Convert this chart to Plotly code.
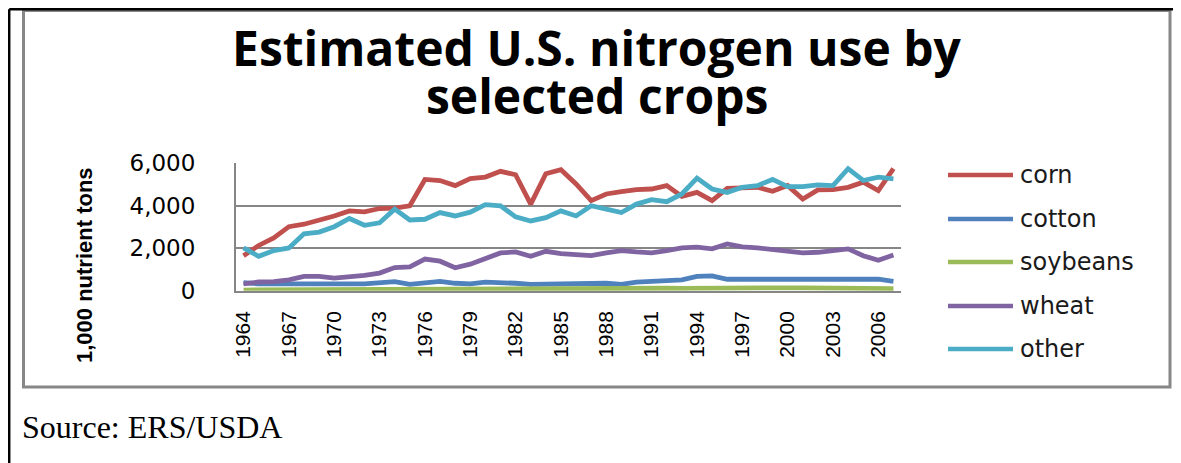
import plotly.graph_objects as go

# Estimated U.S. nitrogen use by selected crops, 1,000 nutrient tons
years = list(range(1964, 2008))

corn = [1650, 2130, 2490, 3015, 3130, 3320, 3520, 3760, 3710, 3870,
        3890, 4000, 5240, 5190, 4950, 5280, 5350, 5620, 5460, 4080,
        5510, 5700, 5030, 4240, 4555, 4670, 4760, 4790, 4950, 4440,
        4630, 4240, 4820, 4840, 4870, 4680, 4950, 4320, 4745, 4760,
        4870, 5110, 4710, 5745]

cotton = [380, 320, 320, 300, 320, 320, 300, 320, 320, 350,
          430, 300, 350, 440, 350, 320, 400, 400, 350, 300,
          320, 320, 320, 350, 350, 300, 400, 440, 475, 510,
          670, 700, 540, 540, 510, 540, 555, 540, 510, 510,
          510, 510, 540, 440]

soybeans = [30, 35, 40, 45, 50, 55, 60, 65, 70, 75,
            80, 85, 90, 95, 100, 105, 110, 115, 110, 105,
            100, 100, 100, 105, 110, 110, 115, 120, 115, 110,
            120, 125, 130, 135, 140, 140, 135, 130, 125, 120,
            115, 90, 80, 100]

wheat = [320, 410, 430, 510, 670, 670, 590, 635, 720, 830,
         1090, 1120, 1490, 1390, 1080, 1250, 1540, 1780, 1825, 1620,
         1855, 1745, 1700, 1650, 1780, 1890, 1825, 1780, 1890, 2015,
         2050, 1970, 2205, 2060, 2015, 1935, 1855, 1780, 1810, 1890,
         1970, 1650, 1430, 1680]

other = [2015, 1620, 1890, 2015, 2680, 2760, 3015, 3400, 3080, 3200,
         3840, 3330, 3365, 3680, 3520, 3700, 4050, 4000, 3475, 3285,
         3440, 3760, 3520, 4000, 3840, 3680, 4080, 4285, 4190, 4555,
         5300, 4790, 4630, 4870, 4950, 5240, 4900, 4900, 4980, 4950,
         5745, 5190, 5350, 5270]

series_names = ['corn', 'cotton', 'soybeans', 'wheat', 'other']
series_values = [corn, cotton, soybeans, wheat, other]
colors = ['#C0504D', '#4F81BD', '#9BBB59', '#8064A2', '#4BACC6']

x_ticks = list(range(1964, 2007, 3))
y_ticks = [0, 2000, 4000, 6000]

# the page body adds an 8px margin, so the figure is drawn 8px in
OFF = 8
W, H = 1181 - OFF, 463 - OFF


def px(x):
    # page pixel -> paper fraction
    return (x - OFF) / W


def py(y):
    return 1 - (y - OFF) / H


fig = go.Figure()

for name, vals, col in zip(series_names, series_values, colors):
    fig.add_trace(go.Scatter(x=years, y=vals, mode='lines', name=name,
                             line=dict(color=col, width=4.8),
                             showlegend=False))

# Hand-drawn legend so the line samples are as long as in the original
shapes = []
annotations = []
legend_y = [175, 219, 262, 306, 349]
for name, col, ly in zip(series_names, colors, legend_y):
    shapes.append(dict(type='line', xref='paper', yref='paper',
                       x0=px(948), x1=px(1013), y0=py(ly), y1=py(ly),
                       line=dict(color=col, width=4.5)))
    annotations.append(dict(text=name, xref='paper', yref='paper',
                            x=px(1018), y=py(ly), xanchor='left',
                            yanchor='middle', showarrow=False,
                            font=dict(family='DejaVu Sans', size=24,
                                      color='#1a1a1a')))

# Chart area frame (grey) and the outer page border (black)
shapes.append(dict(type='rect', xref='paper', yref='paper',
                   x0=px(23.5), x1=px(1170), y0=py(10.5), y1=py(387),
                   line=dict(color='#878787', width=3)))
shapes.append(dict(type='line', xref='paper', yref='paper',
                   x0=px(9.2), x1=1, y0=py(9.2), y1=py(9.2),
                   line=dict(color='#000000', width=2.5)))
shapes.append(dict(type='line', xref='paper', yref='paper',
                   x0=px(9.2), x1=px(9.2), y0=py(9.2), y1=0,
                   line=dict(color='#000000', width=2.5)))

# Title (two lines placed separately to match the tight line spacing)
title_lines = ['Estimated U.S. nitrogen use by', 'selected crops']
for txt, ty in zip(title_lines, [47, 95]):
    annotations.append(dict(text=txt, xref='paper', yref='paper',
                            x=px(597), y=py(ty), xanchor='center',
                            yanchor='middle', showarrow=False,
                            font=dict(family='Open Sans', size=48,
                                      weight='bold', color='#000000')))

# Axis title and source note
annotations.append(dict(text='<b>1,000 nutrient tons</b>', xref='paper',
                        yref='paper', x=px(84), y=py(265), textangle=-90,
                        showarrow=False, xanchor='center', yanchor='middle',
                        font=dict(family='Liberation Sans', size=22,
                                  color='#000000')))
annotations.append(dict(text='Source: ERS/USDA', xref='paper', yref='paper',
                        x=px(20), y=py(427), xanchor='left',
                        yanchor='middle', showarrow=False,
                        font=dict(family='Liberation Serif', size=32,
                                  color='#000000')))

fig.update_layout(
    width=W, height=H, autosize=False,
    margin=dict(l=0, r=0, t=0, b=0),
    paper_bgcolor='white', plot_bgcolor='white',
    shapes=shapes, annotations=annotations,
)

fig.update_xaxes(domain=[px(236), px(901)], range=[1963.5, 2007.5],
                 tickvals=x_ticks, ticktext=[str(t) for t in x_ticks],
                 tickangle=-90, showgrid=False, zeroline=False,
                 showline=True, linecolor='#868686', linewidth=2,
                 ticks='', ticklabelstandoff=10, automargin=False,
                 tickfont=dict(family='Liberation Sans', size=21,
                               color='#000000'))

fig.update_yaxes(domain=[py(290.7), py(163.3)], range=[0, 6000],
                 tickvals=y_ticks, tickformat=',', showgrid=True,
                 gridcolor='#868686', gridwidth=1.5, zeroline=False,
                 showline=True, linecolor='#868686', linewidth=2,
                 ticks='', ticklabelstandoff=34, automargin=False,
                 tickfont=dict(family='DejaVu Sans', size=23,
                               color='#000000'))

fig.write_html("out.html")
